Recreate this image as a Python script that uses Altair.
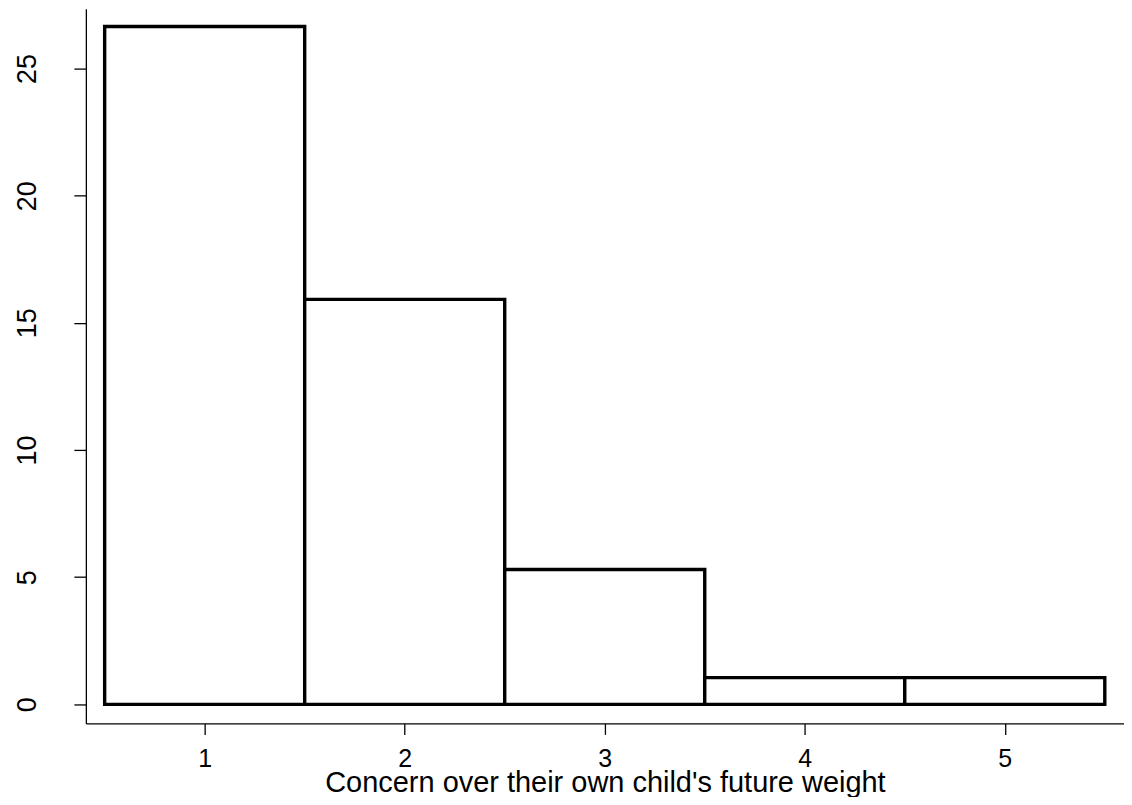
import altair as alt
import pandas as pd

# Histogram bins (concern level 1..5) and bar heights
bin_start = [0.5, 1.5, 2.5, 3.5, 4.5]
bin_end = [1.5, 2.5, 3.5, 4.5, 5.5]
heights = [26.65, 15.92, 5.30, 1.05, 1.05]

x_ticks = [1, 2, 3, 4, 5]
y_ticks = [0, 5, 10, 15, 20, 25]

df = pd.DataFrame({"x0": bin_start, "x1": bin_end, "y0": [0] * 5, "y1": heights})

FONT = "Liberation Sans"

bars = alt.Chart(df).mark_rect(
    fill="white", stroke="black", strokeWidth=3.4
).encode(
    x=alt.X(
        "x0:Q",
        scale=alt.Scale(domain=[0.406, 5.596], nice=False, zero=False),
        axis=alt.Axis(
            values=x_ticks,
            title="Concern over their own child's future weight",
            grid=False,
            domainColor="black",
            domainWidth=1.3,
            tickColor="black",
            tickWidth=1.3,
            tickSize=11,
            labelFont=FONT,
            labelFontSize=25,
            labelColor="black",
            labelPadding=12,
            labelFlush=False,
            titleFont=FONT,
            titleFontSize=29,
            titleFontWeight="normal",
            titleColor="black",
            titleBaseline="alphabetic",
            titleY=68,
        ),
    ),
    x2="x1:Q",
    y=alt.Y(
        "y0:Q",
        scale=alt.Scale(domain=[-0.75, 27.35], nice=False, zero=False),
        axis=alt.Axis(
            values=y_ticks,
            title=None,
            grid=False,
            domainColor="black",
            domainWidth=1.3,
            tickColor="black",
            tickWidth=1.3,
            tickSize=12,
            labelFont=FONT,
            labelFontSize=27,
            labelColor="black",
            labelAngle=-90,
            labelAlign="center",
            labelBaseline="alphabetic",
            labelPadding=38,
            labelFlush=False,
        ),
    ),
    y2="y1:Q",
)

chart = bars.properties(
    width=1040,
    height=716,
    autosize=alt.AutoSizeParams(type="none"),
    padding={"left": 78, "top": 0, "right": 0, "bottom": 73},
    background="white",
).configure_view(stroke=None)

chart.save("out.html", embed_options={"renderer": "svg", "actions": False})
